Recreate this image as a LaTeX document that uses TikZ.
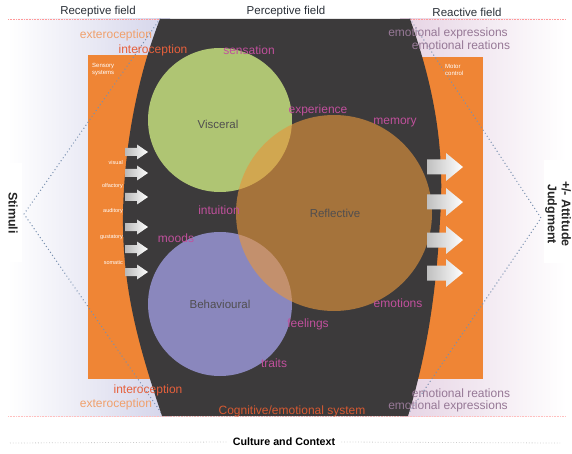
\documentclass[tikz,border=0pt]{standalone}
\usepackage{fontspec}
\setmainfont{Liberation Sans}
\definecolor{darkbg}{HTML}{3C3A3B}
\definecolor{orng}{HTML}{EF8535}
\definecolor{viscg}{HTML}{AFC573}
\definecolor{behav}{HTML}{8A87BD}
\definecolor{refl}{RGB}{230,150,60}
\definecolor{lavl}{HTML}{D4D4EA}
\definecolor{pinkl}{HTML}{E6D3E4}
\definecolor{magtxt}{HTML}{C0509C}
\definecolor{mauvetxt}{HTML}{967896}
\definecolor{extxt}{HTML}{F0A06C}
\definecolor{intxt}{HTML}{E6603C}
\definecolor{cogtxt}{HTML}{D75A32}
\definecolor{dotblue}{HTML}{7890B0}
\definecolor{titletxt}{HTML}{2A3038}
\begin{document}
\begin{tikzpicture}[x=1pt,y=-1pt,
  lbl/.style={inner sep=0pt, font=\fontsize{12}{14}\selectfont},
  magword/.style={lbl, text=magtxt},
  mauveword/.style={lbl, text=mauvetxt},
  circname/.style={inner sep=0pt, font=\fontsize{11.5}{13}\selectfont, text=darkbg!90},
  fieldtitle/.style={inner sep=0pt, font=\fontsize{11.5}{13}\selectfont, text=titletxt},
  boxtxt/.style={inner sep=0pt, font=\fontsize{6}{7}\selectfont, text=white, align=left},
  senstxt/.style={inner sep=0pt, font=\fontsize{5.5}{6.5}\selectfont, text=white},
  sidetxt/.style={inner sep=0pt, font=\bfseries\fontsize{12.5}{14}\selectfont, rotate=-90, align=center, text=black!85},
  dotline/.style={dotblue, line width=1.4pt, line cap=round, dash pattern=on 0pt off 3.6pt},
  sarrow/.pic={\shade[left color=gray!55,right color=white] (0,-4) -- (12,-4) -- (12,-7.5) -- (23,0) -- (12,7.5) -- (12,4) -- (0,4) -- cycle;},
  marrow/.pic={\shade[left color=gray!50,right color=white] (0,-7.5) -- (19,-7.5) -- (19,-14) -- (36,0) -- (19,14) -- (19,7.5) -- (0,7.5) -- cycle;}
]
\useasboundingbox (0,0) rectangle (572,454);
\fill[white] (0,0) rectangle (572,454);
% side panels
\shade[left color=white, right color=lavl] (8,19) rectangle (170,416);
\shade[left color=pinkl, right color=white] (400,19) rectangle (566,416);
\draw[red!40, densely dotted, line width=0.6pt] (8,19) -- (566,19);
\draw[red!25, densely dotted, line width=0.6pt] (8,416) -- (566,416);
% orange boxes
\fill[orng] (88,55) rectangle (155,379);
\fill[orng] (417,57) rectangle (483,379);
% dotted lines
\coordinate (stim) at (24,214);
\coordinate (judg) at (541,218);
\coordinate (tl) at (160,19);
\coordinate (bl) at (162,414);
\coordinate (tr) at (410,19);
\coordinate (br) at (408,414);
\draw[dotline] (tl) -- (stim) -- (bl);
\draw[dotline] (tr) -- (judg) -- (br);
% dark central shape
\fill[darkbg] (160,19) -- (410,19) .. controls (435,90) and (445,150) .. (440,220)
  .. controls (436,300) and (425,360) .. (408,416) -- (162,416)
  .. controls (140,350) and (122,290) .. (123,215)
  .. controls (124,140) and (140,70) .. (160,19) -- cycle;
% circles
\fill[viscg] (220,120) circle (72pt);
\fill[behav] (220,304) circle (72pt);
\fill[refl, opacity=0.62] (334,213) circle (98pt);
% arrows
\foreach \yy in {152,173,197,227,249,272} \pic at (125,\yy) {sarrow};
\foreach \yy in {167,202,240,273} \pic at (427,\yy) {marrow};
% white boxes for side texts
\fill[white] (0,163) rectangle (22,262);
\fill[white] (544,160) rectangle (572,263);
% titles
\node[fieldtitle] (rec) at (98,12) {Receptive field};
\node[fieldtitle] (per) at (286,12) {Perceptive field};
\node[fieldtitle] (rea) at (467,12) {Reactive field};
% box texts
\node[boxtxt, anchor=north west] (sens) at (92,63) {Sensory\\systems};
\node[boxtxt, anchor=north west] (mot) at (445,64) {Motor\\control};
\node[senstxt, anchor=east] (vis) at (123,163) {visual};
\node[senstxt, anchor=east] (olf) at (123,186) {olfactory};
\node[senstxt, anchor=east] (aud) at (123,211) {auditory};
\node[senstxt, anchor=east] (gus) at (123,237) {gustatory};
\node[senstxt, anchor=east] (som) at (123,263) {somatic};
% circle names
\node[circname] (viscn) at (218,124) {Visceral};
\node[circname] (refln) at (335,213) {Reflective};
\node[circname] (behn) at (220,304) {Behavioural};
% magenta words
\node[magword] (sensa) at (249,50) {sensation};
\node[magword] (expe) at (318,110) {experience};
\node[magword] (memo) at (395,123) {memory};
\node[magword] (intu) at (219,210) {intuition};
\node[magword] (mood) at (176,238) {moods};
\node[magword] (emot) at (398,303) {emotions};
\node[magword] (feel) at (308,324) {feelings};
\node[magword] (trai) at (274,363) {traits};
% receptive words
\node[lbl, text=extxt] (ext1) at (116,35) {exteroception};
\node[lbl, text=intxt] (int1) at (153,50) {interoception};
\node[lbl, text=intxt] (int2) at (148,390) {interoception};
\node[lbl, text=extxt] (ext2) at (116,404) {exteroception};
\node[lbl, text=cogtxt] (cog) at (292,411) {Cognitive/emotional system};
% reactive words
\node[mauveword] (ee1) at (448,33) {emotional expressions};
\node[mauveword] (er1) at (461,45) {emotional reations};
\node[mauveword] (er2) at (461,393) {emotional reations};
\node[mauveword] (ee2) at (448,406) {emotional expressions};
% side texts
\node[sidetxt] (stimt) at (13,213) {Stimuli};
\node[sidetxt] (judgt) at (558,214) {+/- Attitude\\Judgment};
% culture
\node[inner sep=0pt, font=\bfseries\fontsize{10.7}{12}\selectfont] (cult) at (284,442) {Culture and Context};
\coordinate (cl) at (10,443);
\coordinate (cr) at (560,443);
\draw[black!20, dotted, line width=0.8pt] (cl) -- ([xshift=-6pt]cult.west);
\draw[black!20, dotted, line width=0.8pt] ([xshift=6pt]cult.east) -- (cr);
\end{tikzpicture}
\end{document}
